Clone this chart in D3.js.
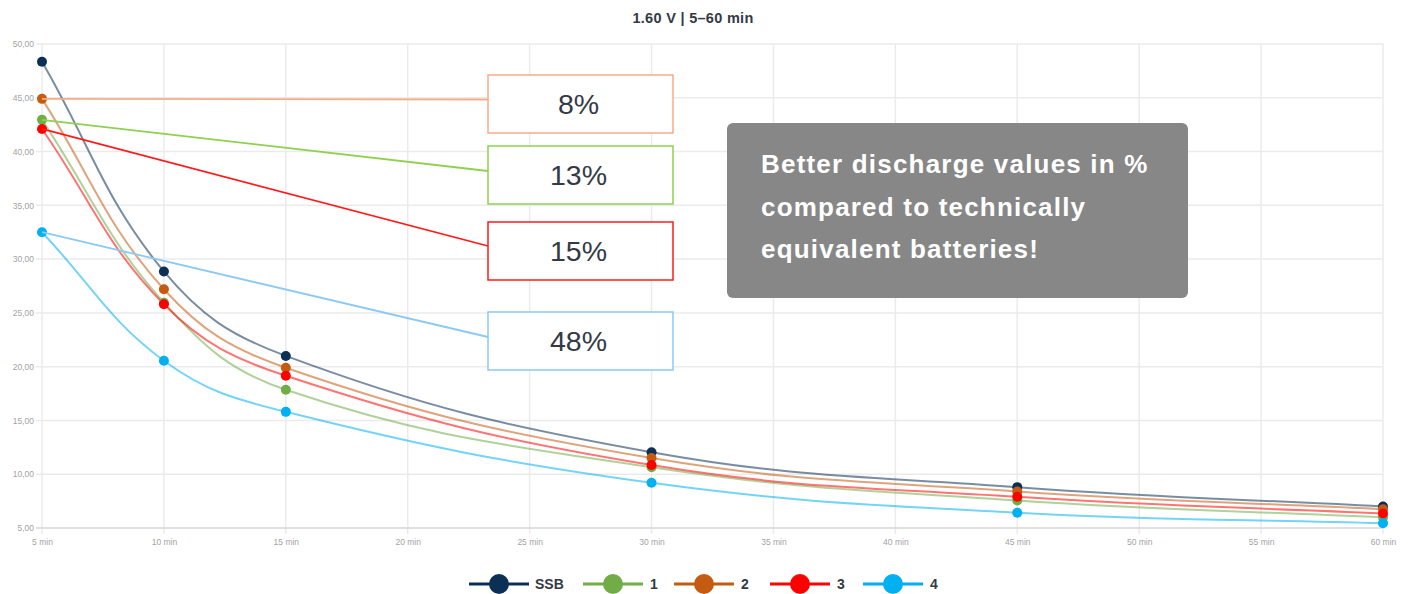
<!DOCTYPE html>
<html>
<head>
<meta charset="utf-8">
<script src="https://cdn.jsdelivr.net/npm/d3@7"></script>
<style>
  body { margin: 0; background: #fff; font-family: 'Liberation Sans', Arial, sans-serif; }
  svg { display: block; }
</style>
</head>
<body>
<div class="canvas"></div>
<script>
// data
const minutes = [5, 10, 15, 30, 45, 60];
const seriesNames = ['SSB', '1', '2', '3', '4'];
const ssbValues = [48.35, 28.85, 21.0, 12.05, 8.8, 7.0];
const s1Values = [42.95, 25.95, 17.85, 10.65, 7.55, 6.0];
const s2Values = [44.9, 27.2, 19.9, 11.5, 8.4, 6.75];
const s3Values = [42.1, 25.8, 19.15, 10.85, 7.9, 6.35];
const s4Values = [32.5, 20.55, 15.8, 9.2, 6.42, 5.45];
const xTicks = [5, 10, 15, 20, 25, 30, 35, 40, 45, 50, 55, 60];
const yTicks = [5, 10, 15, 20, 25, 30, 35, 40, 45, 50];
const title = '1.60 V | 5\u201360 min';

// annotation labels (series index, text)
const notes = [
  { series: 2, text: '8%' },
  { series: 1, text: '13%' },
  { series: 3, text: '15%' },
  { series: 4, text: '48%' },
];
const noteText = ['Better discharge values in %', 'compared to technically', 'equivalent batteries!'];

const colors = ['#0b2f55', '#70ad47', '#c55a11', '#ff0000', '#00b0f0'];
const noteColors = { 1: '#8fd14f', 2: '#f5ad88', 3: '#ff1a1a', 4: '#8ccaf3' };

const allValues = [ssbValues, s1Values, s2Values, s3Values, s4Values];
const data = seriesNames.map((name, i) => ({
  name: name,
  color: colors[i],
  points: minutes.map((m, j) => ({ m: m, v: allValues[i][j] })),
}));

const width = 1410;
const height = 594;
const margin = { top: 44, right: 27, bottom: 66, left: 42 };
const graphWidth = width - margin.left - margin.right;
const graphHeight = height - margin.top - margin.bottom;

const svg = d3
  .select('.canvas')
  .append('svg')
  .attr('width', width)
  .attr('height', height);

const graph = svg
  .append('g')
  .attr('transform', `translate(${margin.left}, ${margin.top})`);

//scales
const x = d3.scaleLinear().domain([5, 60]).range([0, graphWidth]);
const y = d3.scaleLinear().domain([5, 50]).range([graphHeight, 0]);

//grid
graph
  .append('g')
  .selectAll('line')
  .data(xTicks)
  .join('line')
  .attr('x1', (d) => x(d))
  .attr('x2', (d) => x(d))
  .attr('y1', 0)
  .attr('y2', graphHeight + 6)
  .attr('stroke', '#ebebeb')
  .attr('stroke-width', 1.5);

graph
  .append('g')
  .selectAll('line')
  .data(yTicks)
  .join('line')
  .attr('x1', -6)
  .attr('x2', graphWidth)
  .attr('y1', (d) => y(d))
  .attr('y2', (d) => y(d))
  .attr('stroke', (d) => (d === 5 ? '#d6d6d6' : '#ebebeb'))
  .attr('stroke-width', 1.5);

//axes
const xAxis = d3
  .axisBottom(x)
  .tickValues(xTicks)
  .tickSize(0)
  .tickPadding(11)
  .tickFormat((d) => d + ' min');
const yAxis = d3
  .axisLeft(y)
  .tickValues(yTicks)
  .tickSize(0)
  .tickPadding(8)
  .tickFormat((d) => d3.format('.2f')(d).replace('.', ','));

const xAxisGroup = graph
  .append('g')
  .attr('transform', `translate(0, ${graphHeight})`)
  .call(xAxis);
const yAxisGroup = graph.append('g').call(yAxis);

[xAxisGroup, yAxisGroup].forEach((g) => {
  g.select('.domain').remove();
  g.selectAll('text')
    .attr('fill', '#a3a3a3')
    .style('font-size', '8.5px')
    .style('font-family', "'Liberation Sans', Arial, sans-serif");
});

//spline curve with tension 0.4 (same idea as chart.js)
const splineCurve = (context) => {
  let pts = [];
  return {
    areaStart() {},
    areaEnd() {},
    lineStart() {
      pts = [];
    },
    point(px, py) {
      pts.push([+px, +py]);
    },
    lineEnd() {
      const t = 0.4;
      const cps = pts.map((p, i) => {
        const prev = pts[i - 1] || p;
        const next = pts[i + 1] || p;
        const d01 = Math.hypot(p[0] - prev[0], p[1] - prev[1]);
        const d12 = Math.hypot(next[0] - p[0], next[1] - p[1]);
        const s01 = d01 / (d01 + d12) || 0;
        const s12 = d12 / (d01 + d12) || 0;
        const dx = next[0] - prev[0];
        const dy = next[1] - prev[1];
        return {
          a: [p[0] - t * s01 * dx, p[1] - t * s01 * dy],
          b: [p[0] + t * s12 * dx, p[1] + t * s12 * dy],
        };
      });
      context.moveTo(pts[0][0], pts[0][1]);
      for (let i = 1; i < pts.length; i++) {
        context.bezierCurveTo(
          cps[i - 1].b[0], cps[i - 1].b[1],
          cps[i].a[0], cps[i].a[1],
          pts[i][0], pts[i][1]
        );
      }
    },
  };
};

//lines
const line = d3
  .line()
  .x((d) => x(d.m))
  .y((d) => y(d.v))
  .curve(splineCurve);

graph
  .append('g')
  .selectAll('path')
  .data(data)
  .join('path')
  .attr('fill', 'none')
  .attr('stroke', (d) => d.color)
  .attr('stroke-opacity', 0.55)
  .attr('stroke-width', 2)
  .attr('d', (d) => line(d.points));

//points
data.forEach((s) => {
  graph
    .append('g')
    .selectAll('circle')
    .data(s.points)
    .join('circle')
    .attr('r', 5)
    .attr('cx', (d) => x(d.m))
    .attr('cy', (d) => y(d.v))
    .attr('fill', s.color);
});

//annotation boxes
const boxX = 488 - margin.left;
const boxW = 185;
const boxH = 58;
const boxTops = [75, 146, 222, 312];
const lineEnds = [99.5, 171, 246, 337];

notes.forEach((n, i) => {
  const s = data[n.series];
  const c = noteColors[n.series];
  const top = boxTops[i] - margin.top;
  graph
    .append('line')
    .attr('x1', x(s.points[0].m))
    .attr('y1', y(s.points[0].v))
    .attr('x2', boxX)
    .attr('y2', lineEnds[i] - margin.top)
    .attr('stroke', c)
    .attr('stroke-width', 1.8);
  graph
    .append('rect')
    .attr('x', boxX)
    .attr('y', top)
    .attr('width', boxW)
    .attr('height', boxH)
    .attr('fill', '#fff')
    .attr('stroke', c)
    .attr('stroke-width', 1.5);
  graph
    .append('text')
    .attr('x', boxX + boxW / 2 - 2)
    .attr('y', top + 39)
    .attr('text-anchor', 'middle')
    .attr('fill', '#333a45')
    .style('font-size', '28.5px')
    .text(n.text);
});

//grey note
svg
  .append('rect')
  .attr('x', 727)
  .attr('y', 123)
  .attr('width', 461)
  .attr('height', 175)
  .attr('rx', 6)
  .attr('fill', '#878787');

svg
  .append('g')
  .selectAll('text')
  .data(noteText)
  .join('text')
  .attr('x', 761)
  .attr('y', (d, i) => 173 + i * 42.5)
  .attr('fill', '#fff')
  .style('font-size', '26px')
  .style('letter-spacing', '1.2px')
  .style('font-weight', 'bold')
  .text((d) => d);

//title
svg
  .append('text')
  .attr('x', 693)
  .attr('y', 23)
  .attr('text-anchor', 'middle')
  .attr('fill', '#333a45')
  .style('font-size', '14.5px')
  .style('letter-spacing', '0.3px')
  .style('font-weight', 'bold')
  .text(title);

//legend
const legendX = [469, 583, 674, 770, 863];
const legend = svg
  .append('g')
  .selectAll('g')
  .data(data)
  .join('g')
  .attr('transform', (d, i) => `translate(${legendX[i]}, 584)`);

legend
  .append('line')
  .attr('x1', 0)
  .attr('x2', 60)
  .attr('stroke', (d) => d.color)
  .attr('stroke-width', 3);

legend
  .append('circle')
  .attr('cx', 30)
  .attr('r', 10)
  .attr('fill', (d) => d.color);

legend
  .append('text')
  .attr('x', (d, i) => (i === 0 ? 66 : 67))
  .attr('y', 5)
  .attr('fill', '#333a45')
  .style('font-size', '14px')
  .style('font-weight', 'bold')
  .text((d) => d.name);
</script>
</body>
</html>
